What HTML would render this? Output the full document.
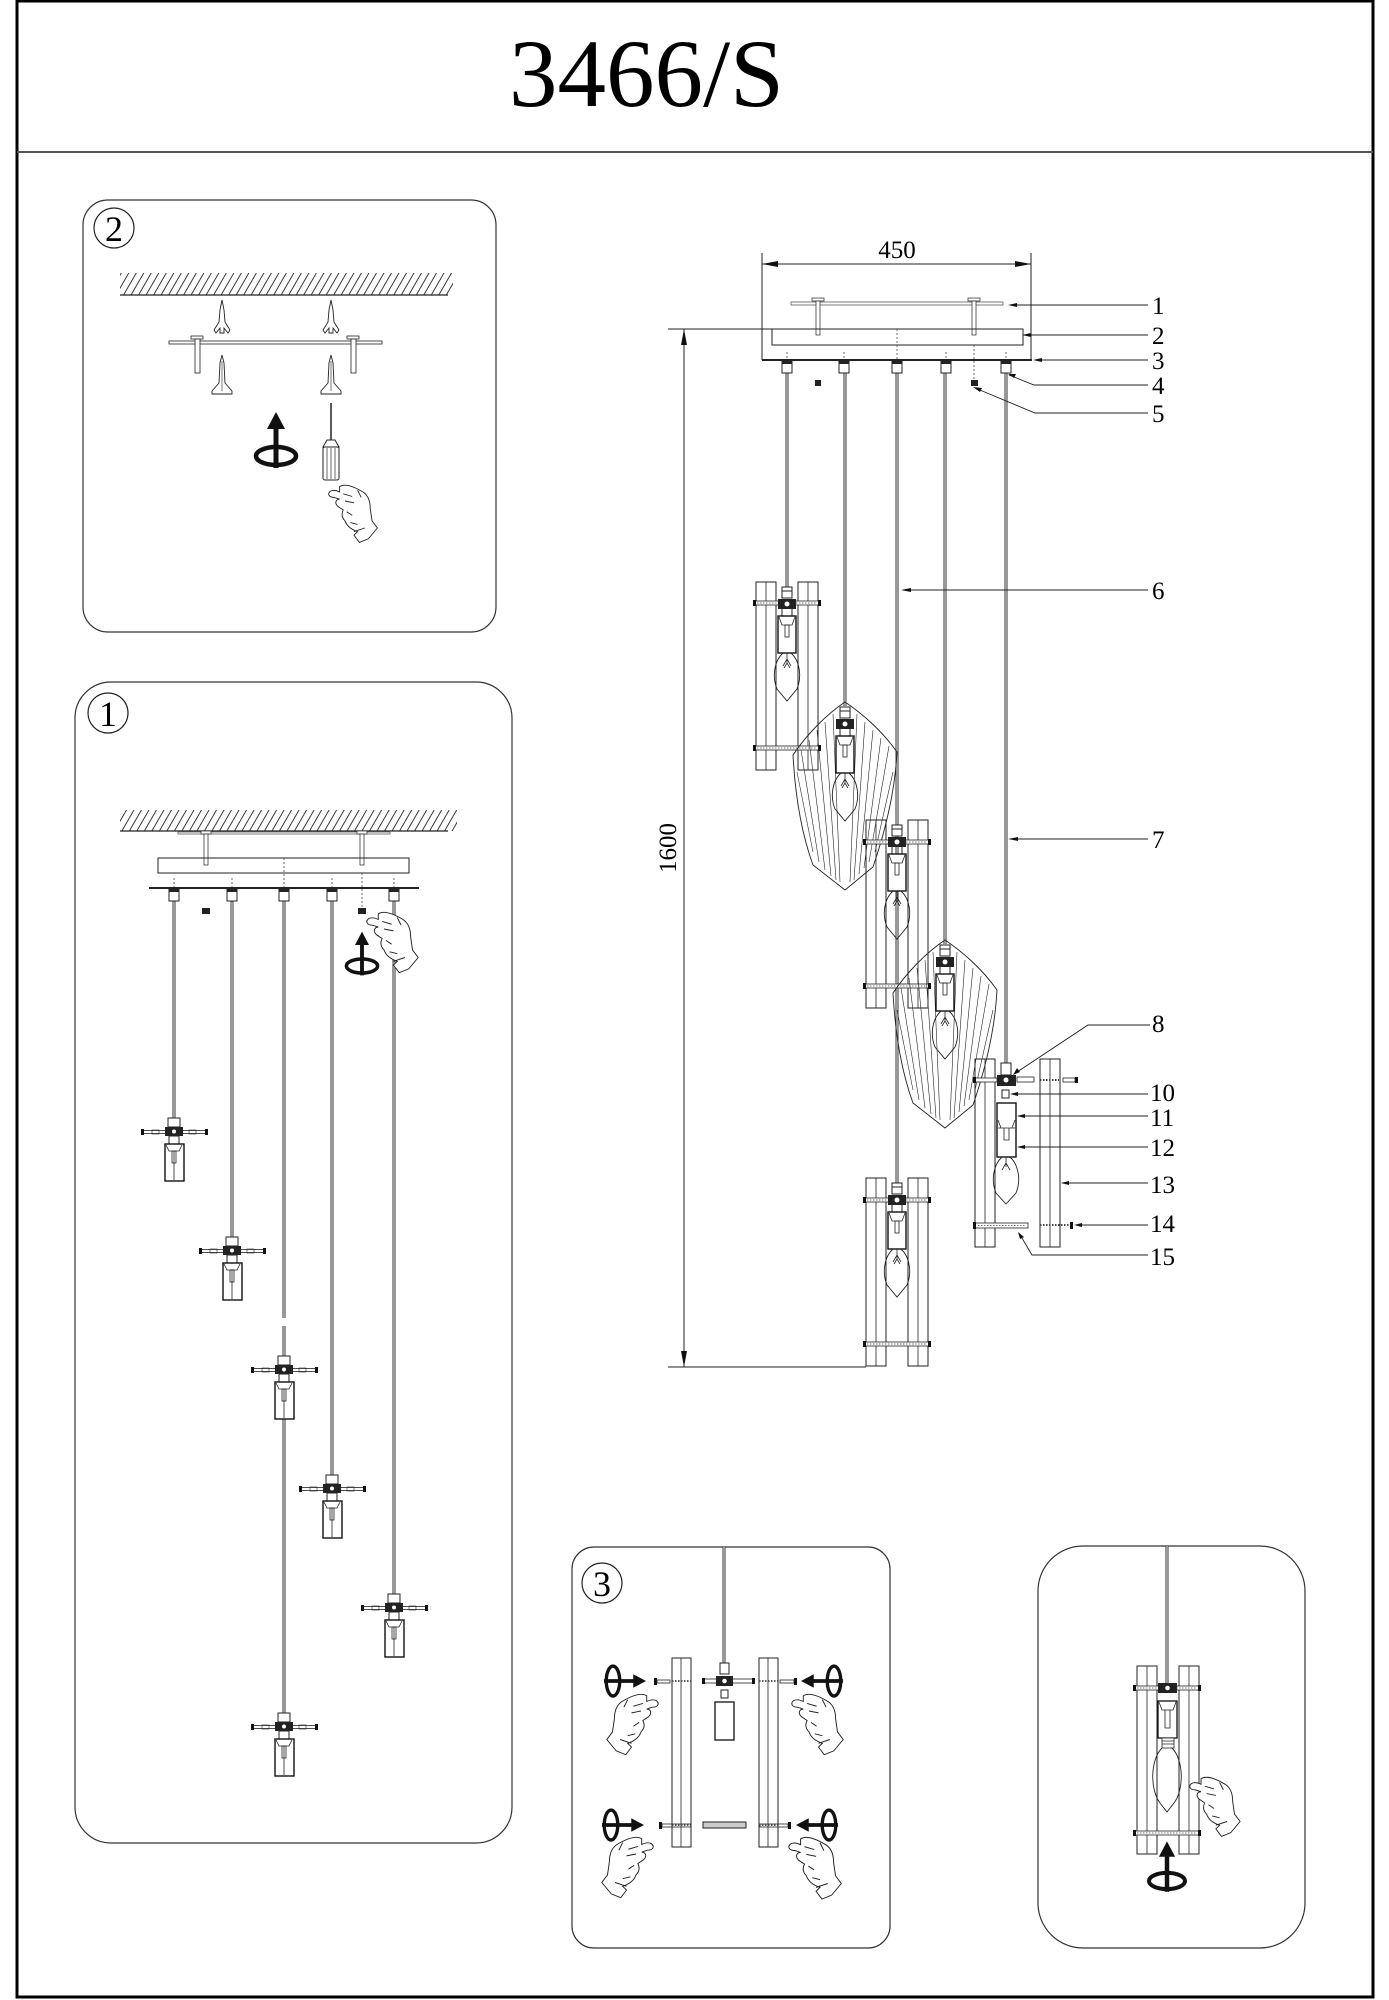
<!DOCTYPE html>
<html><head><meta charset="utf-8"><style>html,body{margin:0;padding:0;background:#fff}svg{display:block}</style></head>
<body>
<svg width="1389" height="2000" viewBox="0 0 1389 2000">
<defs>
<pattern id="h" width="6.5" height="10" patternUnits="userSpaceOnUse" patternTransform="rotate(30)"><line x1="1" y1="0" x2="1" y2="10" stroke="#222" stroke-width="0.9"/></pattern>
<g id="bar"><rect x="0" y="0" width="20" height="188" fill="none" stroke="#222" stroke-width="1"/><line x1="10" y1="0" x2="10" y2="188" stroke="#222" stroke-width="0.8"/></g>
<g id="xb"><rect x="-33" y="-2" width="66" height="4" fill="#fff" stroke="#222" stroke-width="0.8"/><line x1="-30" y1="0" x2="30" y2="0" stroke="#777" stroke-dasharray="1.5 1.5"/><rect x="-34" y="-3" width="3" height="6" fill="#111"/><rect x="31" y="-3" width="3" height="6" fill="#111"/></g>
<g id="sk">
<rect x="-5" y="0" width="10" height="11" fill="#fff" stroke="#222"/>
<line x1="-5" y1="4" x2="5" y2="4" stroke="#222"/>
<rect x="-9" y="12" width="18" height="10" fill="#222"/>
<circle cx="0" cy="17" r="2.5" fill="#fff"/>
<line x1="-5" y1="22" x2="-5" y2="29" stroke="#222"/><line x1="5" y1="22" x2="5" y2="29" stroke="#222"/>
<rect x="-9" y="29" width="18" height="37" fill="#fff" stroke="#111" stroke-width="1.4"/>
<path d="M-8,30 L-5,38 L5,38 L8,30" fill="none" stroke="#222" stroke-width="0.8"/>
<rect x="-2" y="38" width="4" height="12" fill="none" stroke="#222" stroke-width="0.8"/>
<path d="M-4,66 C-13,74 -15,90 -10,102 L0,114 L10,102 C15,90 13,74 4,66" fill="none" stroke="#222" stroke-width="0.9"/>
<path d="M0,66 L0,76 M-4,79 L0,72 L4,79 M-3,81 L0,76 L3,81" fill="none" stroke="#222" stroke-width="0.8"/>
</g>
<g id="mp">
<rect x="-6" y="-14" width="12" height="9" fill="#fff" stroke="#222"/>
<rect x="-32" y="-1.5" width="65" height="3" fill="#fff" stroke="#222" stroke-width="0.8"/>
<rect x="-33" y="-3" width="3" height="6" fill="#111"/><rect x="31" y="-3" width="3" height="6" fill="#111"/>
<rect x="-22" y="-2" width="7" height="4" fill="none" stroke="#222" stroke-width="0.6"/>
<rect x="15" y="-2" width="7" height="4" fill="none" stroke="#222" stroke-width="0.6"/>
<rect x="-9" y="-5" width="18" height="9" fill="#222"/>
<circle cx="0" cy="-0.5" r="2" fill="#fff"/>
<rect x="-5" y="4" width="10" height="8" fill="#fff" stroke="#222"/>
<rect x="-9" y="12" width="19" height="37" fill="#fff" stroke="#111" stroke-width="1.4"/>
<path d="M-8,13 L-5,19 L5,19 L8,13" fill="none" stroke="#222" stroke-width="0.8"/>
<line x1="0" y1="19" x2="0" y2="48" stroke="#222" stroke-width="0.8"/>
<rect x="-2" y="19" width="4" height="12" fill="none" stroke="#222" stroke-width="0.8"/>
</g>
<g id="leaf" fill="none" stroke="#222">
<path d="M0,0 C18,12 38,30 52,50 C50,90 40,130 28,165 L0,188 L-32,163 C-44,130 -50,90 -52,53 C-38,32 -18,12 0,0 Z" stroke-width="0.9"/>
<path d="M-44,48 L-26,160 M-36,38 L-20,168 M-28,28 L-14,174 M-20,20 L-9,178 M-12,12 L-5,180 M12,12 L5,180 M20,20 L9,178 M28,28 L14,172 M36,36 L19,166 M44,44 L24,160 M-48,70 L-32,150 M48,70 L30,150" stroke-width="0.6"/>
</g>
<g id="hand" fill="#fff" stroke="#222" stroke-width="1">
<path d="M14,4 C20,0 30,4 40,10 C46,14 48,20 48,28 L50,42 L56,50 L46,62 L36,66 L30,58 L34,54 C28,52 22,48 20,42 C16,38 16,34 18,30 L12,26 C8,22 10,18 14,18 L8,16 C2,16 0,12 4,9 C8,7 12,9 14,10 Z"/>
<path d="M18,12 L28,15 M20,20 L30,22 M22,32 L28,36 M26,44 L34,46 M30,54 L42,50 M34,8 L38,16" fill="none"/>
</g>
<g id="rotv">
<ellipse cx="0" cy="0" rx="20" ry="9" fill="none" stroke="#111" stroke-width="4.5"/>
<line x1="0" y1="12" x2="0" y2="-28" stroke="#111" stroke-width="5"/>
<path d="M0,-44 L-9,-27 L9,-27 Z" fill="#111"/>
</g>
<path id="anc1" d="M0,0 L2,10 L3,22 L8,30 L6,33 L2,28 L2,33 L-2,33 L-2,28 L-6,33 L-8,30 L-3,22 L-2,10 Z" fill="#fff" stroke="#222" stroke-width="0.9"/>
<g id="anc2"><path d="M0,0 L2,8 L3,28 L10,36 L10,39 L-10,39 L-10,36 L-3,28 L-2,8 Z" fill="#fff" stroke="#222" stroke-width="0.9"/><line x1="0" y1="6" x2="0" y2="36" stroke="#222" stroke-width="0.6"/></g>
</defs>

<!-- frame -->
<rect x="17" y="1" width="1356" height="1996" fill="none" stroke="#000" stroke-width="3"/>
<line x1="17" y1="152" x2="1373" y2="152" stroke="#555" stroke-width="2"/>
<text x="509" y="106" font-family="Liberation Serif, serif" font-size="96" textLength="275" lengthAdjust="spacingAndGlyphs">3466/S</text>

<!-- ===== Panel 2 ===== -->
<rect x="83" y="200" width="413" height="432" rx="25" fill="none" stroke="#333" stroke-width="1.2"/>
<circle cx="114" cy="228" r="20" fill="none" stroke="#222" stroke-width="1.2"/>
<text x="114" y="241" font-family="Liberation Serif, serif" font-size="36" text-anchor="middle">2</text>
<rect x="120" y="273" width="333" height="22" fill="url(#h)"/>
<line x1="120" y1="295" x2="448" y2="295" stroke="#222" stroke-width="1.2"/>
<use href="#anc1" x="222" y="300"/><use href="#anc1" x="331" y="300"/>
<rect x="169" y="341" width="213" height="3" fill="#fff" stroke="#222" stroke-width="0.8"/>
<rect x="191" y="336" width="12" height="3" fill="#fff" stroke="#222" stroke-width="0.8"/>
<rect x="195" y="339" width="5" height="34" fill="#fff" stroke="#222" stroke-width="0.8"/>
<rect x="347" y="336" width="12" height="3" fill="#fff" stroke="#222" stroke-width="0.8"/>
<rect x="351" y="339" width="5" height="34" fill="#fff" stroke="#222" stroke-width="0.8"/>
<use href="#anc2" x="222" y="355"/><use href="#anc2" x="331" y="355"/>
<use href="#rotv" x="276" y="456"/>
<line x1="331" y1="403" x2="331" y2="440" stroke="#222" stroke-width="1.5"/>
<path d="M327,440 L335,440 L339,447 L323,447 Z" fill="#fff" stroke="#222"/>
<rect x="323" y="447" width="16" height="33" rx="2" fill="#fff" stroke="#222"/>
<path d="M327,448 V479 M331,448 V479 M335,448 V479" stroke="#444" stroke-width="0.8"/>
<use href="#hand" transform="translate(327,483) scale(0.9)"/>

<!-- ===== Panel 1 ===== -->
<rect x="75" y="682" width="437" height="1161" rx="36" fill="none" stroke="#333" stroke-width="1.2"/>
<circle cx="108" cy="713" r="20" fill="none" stroke="#222" stroke-width="1.2"/>
<text x="108" y="726" font-family="Liberation Serif, serif" font-size="36" text-anchor="middle">1</text>
<rect x="120" y="810" width="337" height="21" fill="url(#h)"/>
<line x1="120" y1="831" x2="448" y2="831" stroke="#222" stroke-width="1.2"/>
<rect x="178" y="832" width="212" height="2" fill="#fff" stroke="#444" stroke-width="0.7"/>
<rect x="201" y="831" width="10" height="3" fill="#fff" stroke="#222" stroke-width="0.7"/>
<rect x="204" y="834" width="4" height="31" fill="#fff" stroke="#222" stroke-width="0.7"/>
<rect x="357" y="831" width="10" height="3" fill="#fff" stroke="#222" stroke-width="0.7"/>
<rect x="360" y="834" width="4" height="31" fill="#fff" stroke="#222" stroke-width="0.7"/>
<rect x="158" y="858" width="251" height="15" fill="none" stroke="#222" stroke-width="1"/>
<path d="M284,858 V888 M362,873 V908 M174,878 V888 M232,878 V888 M332,878 V888 M394,878 V888" stroke="#444" stroke-width="0.8" stroke-dasharray="2 2"/>
<line x1="149" y1="888" x2="419" y2="888" stroke="#222" stroke-width="2"/>
<g stroke="#333" stroke-width="3"><line x1="174" y1="901" x2="174" y2="1118"/><line x1="232" y1="901" x2="232" y2="1237"/><line x1="284" y1="901" x2="284" y2="1318"/><line x1="284" y1="1326" x2="284" y2="1713"/><line x1="332" y1="901" x2="332" y2="1475"/><line x1="394" y1="901" x2="394" y2="1594"/></g>
<g stroke="#ddd" stroke-width="1.2"><line x1="174" y1="901" x2="174" y2="1118"/><line x1="232" y1="901" x2="232" y2="1237"/><line x1="284" y1="901" x2="284" y2="1318"/><line x1="284" y1="1326" x2="284" y2="1713"/><line x1="332" y1="901" x2="332" y2="1475"/><line x1="394" y1="901" x2="394" y2="1594"/></g>
<g fill="#fff" stroke="#222"><rect x="169" y="889" width="10" height="12"/><rect x="227" y="889" width="10" height="12"/><rect x="279" y="889" width="10" height="12"/><rect x="327" y="889" width="10" height="12"/><rect x="389" y="889" width="10" height="12"/></g>
<g fill="#222"><rect x="169" y="889" width="10" height="3"/><rect x="227" y="889" width="10" height="3"/><rect x="279" y="889" width="10" height="3"/><rect x="327" y="889" width="10" height="3"/><rect x="389" y="889" width="10" height="3"/><rect x="202" y="908" width="8" height="6"/><rect x="358" y="908" width="8" height="6"/></g>
<use href="#rotv" transform="translate(362,966) scale(0.78)"/>
<use href="#hand" transform="translate(365,910) scale(0.95)"/>
<use href="#mp" x="174" y="1132"/>
<use href="#mp" x="232" y="1251"/>
<use href="#mp" x="284" y="1370"/>
<use href="#mp" x="332" y="1489"/>
<use href="#mp" x="394" y="1608"/>
<use href="#mp" x="284" y="1727"/>

<!-- ===== Main diagram ===== -->
<g stroke="#222" stroke-width="1">
<line x1="762" y1="253" x2="762" y2="360"/><line x1="1031" y1="253" x2="1031" y2="360"/>
<line x1="762" y1="264" x2="1031" y2="264"/>
<line x1="668" y1="329" x2="772" y2="329"/><line x1="668" y1="1367" x2="866" y2="1367"/>
<line x1="684" y1="329" x2="684" y2="1367"/>
</g>
<g fill="#111"><path d="M762,264 L778,261 L778,267 Z"/><path d="M1031,264 L1015,261 L1015,267 Z"/><path d="M684,329 L681,345 L687,345 Z"/><path d="M684,1367 L681,1351 L687,1351 Z"/></g>
<text x="897" y="258" font-family="Liberation Serif, serif" font-size="25" text-anchor="middle">450</text>
<text transform="translate(676,848) rotate(-90)" font-family="Liberation Serif, serif" font-size="25" text-anchor="middle">1600</text>
<rect x="791" y="302" width="212" height="3" fill="#fff" stroke="#444" stroke-width="0.7"/>
<rect x="812" y="298" width="12" height="3" fill="#fff" stroke="#222" stroke-width="0.7"/>
<rect x="816" y="301" width="4" height="34" fill="#fff" stroke="#222" stroke-width="0.7"/>
<rect x="968" y="298" width="12" height="3" fill="#fff" stroke="#222" stroke-width="0.7"/>
<rect x="972" y="301" width="4" height="34" fill="#fff" stroke="#222" stroke-width="0.7"/>
<rect x="772" y="329" width="251" height="16" fill="none" stroke="#222" stroke-width="1"/>
<path d="M897,329 V360 M974,345 V381 M787,352 V360 M844,352 V360 M946,352 V360 M1006,352 V360" stroke="#444" stroke-width="0.8" stroke-dasharray="2 2"/>
<line x1="762" y1="360" x2="1032" y2="360" stroke="#222" stroke-width="2"/>
<g fill="#222"><rect x="815" y="380" width="6" height="6"/><rect x="971" y="380" width="7" height="6"/></g>
<g stroke="#333" stroke-width="3"><line x1="787" y1="373" x2="787" y2="588"/><line x1="845" y1="373" x2="845" y2="706"/><line x1="897" y1="373" x2="897" y2="1184"/><line x1="945" y1="373" x2="945" y2="944"/><line x1="1006" y1="373" x2="1006" y2="1064"/></g>
<g stroke="#ddd" stroke-width="1.2"><line x1="787" y1="373" x2="787" y2="588"/><line x1="845" y1="373" x2="845" y2="706"/><line x1="897" y1="373" x2="897" y2="1184"/><line x1="945" y1="373" x2="945" y2="944"/><line x1="1006" y1="373" x2="1006" y2="1064"/></g>
<g fill="#fff" stroke="#222"><rect x="782" y="361" width="10" height="12"/><rect x="839" y="361" width="10" height="12"/><rect x="892" y="361" width="10" height="12"/><rect x="941" y="361" width="10" height="12"/><rect x="1001" y="361" width="10" height="12"/></g>
<g fill="#222"><rect x="782" y="361" width="10" height="3"/><rect x="839" y="361" width="10" height="3"/><rect x="892" y="361" width="10" height="3"/><rect x="941" y="361" width="10" height="3"/><rect x="1001" y="361" width="10" height="3"/></g>
<use href="#bar" x="756" y="582"/><use href="#bar" x="798" y="582"/>
<use href="#xb" x="787" y="603"/><use href="#xb" x="787" y="748"/>
<use href="#sk" x="787" y="587"/>
<use href="#leaf" x="845" y="702"/><use href="#sk" x="845" y="707"/>
<use href="#bar" x="866" y="820"/><use href="#bar" x="908" y="820"/>
<use href="#xb" x="897" y="842"/><use href="#xb" x="897" y="986"/>
<use href="#sk" x="897" y="825"/>
<use href="#leaf" x="945" y="940"/><use href="#sk" x="945" y="945"/>
<use href="#bar" x="866" y="1178"/><use href="#bar" x="908" y="1178"/>
<use href="#xb" x="897" y="1200"/><use href="#xb" x="897" y="1344"/>
<use href="#sk" x="897" y="1183"/>
<use href="#bar" x="975" y="1059"/><use href="#bar" x="1040" y="1059"/>
<rect x="1001" y="1063" width="10" height="12" fill="#fff" stroke="#222"/>
<rect x="974" y="1078" width="23" height="4" fill="#fff" stroke="#222" stroke-width="0.8"/><rect x="973" y="1077" width="3" height="6" fill="#111"/>
<rect x="997" y="1075" width="19" height="11" fill="#222"/><circle cx="1006" cy="1080" r="2.5" fill="#fff"/>
<rect x="1017" y="1077" width="17" height="5" fill="#fff" stroke="#222" stroke-width="0.8"/>
<line x1="1040" y1="1080" x2="1059" y2="1080" stroke="#444" stroke-dasharray="1.5 1.5" stroke-width="2"/>
<rect x="1063" y="1078" width="12" height="4" fill="#fff" stroke="#222" stroke-width="0.8"/><rect x="1075" y="1077" width="3" height="6" fill="#111"/>
<rect x="1002" y="1090" width="7" height="8" fill="#fff" stroke="#222"/>
<rect x="997" y="1103" width="19" height="54" fill="#fff" stroke="#111" stroke-width="1.4"/>
<path d="M998,1120 L1001,1128 L1012,1128 L1015,1120 M998,1128 H1015 M1004,1128 V1140 H1009 V1128" fill="none" stroke="#222" stroke-width="0.8"/>
<path d="M1002,1157 C993,1165 991,1181 996,1193 L1006,1204 L1016,1193 C1021,1181 1019,1165 1010,1157" fill="none" stroke="#222" stroke-width="0.9"/>
<path d="M1006,1157 V1167 M1002,1170 L1006,1163 L1010,1170" fill="none" stroke="#222" stroke-width="0.8"/>
<rect x="974" y="1223" width="54" height="5" fill="#fff" stroke="#222" stroke-width="0.8"/><rect x="973" y="1222" width="3" height="7" fill="#111"/>
<line x1="978" y1="1225.5" x2="1026" y2="1225.5" stroke="#777" stroke-dasharray="1.5 1.5"/>
<line x1="1040" y1="1225" x2="1070" y2="1225" stroke="#444" stroke-width="2" stroke-dasharray="1.5 1.5"/>
<rect x="1070" y="1222" width="3" height="7" fill="#111"/>
<g stroke="#222" stroke-width="0.9" fill="none">
<path d="M1010,305 H1148"/><path d="M1024,335 H1148"/><path d="M1035,360 H1148"/>
<path d="M1009,375 L1034,385 H1148"/><path d="M975,388 L1035,413 H1148"/>
<path d="M903,590 H1148"/><path d="M1010,839 H1148"/>
<path d="M1014,1074 L1088,1025 H1150"/>
<path d="M1012,1094 H1148"/><path d="M1018,1116 H1148"/><path d="M1018,1147 H1148"/><path d="M1062,1183 H1148"/><path d="M1076,1225 H1148"/><path d="M1019,1233 L1032,1255 H1148"/>
</g>
<g fill="#111">
<path d="M1008,305 l9,-2 v4 z"/><path d="M1022,335 l9,-2 v4 z"/><path d="M1033,360 l9,-2 v4 z"/>
<path d="M1008,374 l8,0 l-2,4 z"/><path d="M973,387 l9,1 l-2,4 z"/>
<path d="M901,590 l10,-2 v4 z"/><path d="M1008,839 l10,-2 v4 z"/>
<path d="M1013,1075 l4,-7 l3,4 z"/>
<path d="M1010,1094 l8,-2 v4 z"/><path d="M1017,1116 l8,-2 v4 z"/><path d="M1017,1147 l8,-2 v4 z"/><path d="M1061,1183 l8,-2 v4 z"/><path d="M1074,1225 l8,-2 v4 z"/><path d="M1018,1232 l6,5 l-4,2 z"/>
</g>
<g font-family="Liberation Serif, serif" font-size="25">
<text x="1152" y="314">1</text><text x="1152" y="344">2</text><text x="1152" y="369">3</text><text x="1152" y="394">4</text><text x="1152" y="422">5</text>
<text x="1152" y="599">6</text><text x="1152" y="848">7</text><text x="1152" y="1032">8</text>
<text x="1150" y="1101">10</text><text x="1150" y="1126">11</text><text x="1150" y="1156">12</text><text x="1150" y="1193">13</text><text x="1150" y="1232">14</text><text x="1150" y="1265">15</text>
</g>

<!-- ===== Panel 3 ===== -->
<rect x="572" y="1547" width="318" height="401" rx="22" fill="none" stroke="#333" stroke-width="1.2"/>
<circle cx="602" cy="1583" r="20" fill="none" stroke="#222" stroke-width="1.2"/>
<text x="602" y="1596" font-family="Liberation Serif, serif" font-size="36" text-anchor="middle">3</text>
<line x1="724" y1="1547" x2="724" y2="1664" stroke="#333" stroke-width="3"/>
<line x1="724" y1="1547" x2="724" y2="1664" stroke="#ddd" stroke-width="1.2"/>
<rect x="672" y="1658" width="19" height="189" fill="none" stroke="#222"/><line x1="681" y1="1658" x2="681" y2="1847" stroke="#222" stroke-width="0.8"/>
<rect x="759" y="1658" width="19" height="189" fill="none" stroke="#222"/><line x1="768" y1="1658" x2="768" y2="1847" stroke="#222" stroke-width="0.8"/>
<rect x="720" y="1663" width="9" height="11" fill="#fff" stroke="#222"/>
<rect x="703" y="1679" width="51" height="4" fill="#fff" stroke="#222" stroke-width="0.8"/>
<rect x="702" y="1678" width="3" height="6" fill="#111"/><rect x="752" y="1678" width="3" height="6" fill="#111"/>
<rect x="716" y="1676" width="17" height="10" fill="#222"/><circle cx="724.5" cy="1681" r="2.3" fill="#fff"/>
<rect x="721" y="1690" width="7" height="8" fill="#fff" stroke="#222"/>
<rect x="715" y="1702" width="19" height="38" fill="#fff" stroke="#111" stroke-width="1.3"/>
<g stroke="#555" stroke-width="2" stroke-dasharray="1.5 1.5"><line x1="672" y1="1681" x2="691" y2="1681"/><line x1="759" y1="1681" x2="778" y2="1681"/><line x1="672" y1="1825" x2="691" y2="1825"/><line x1="759" y1="1825" x2="778" y2="1825"/></g>
<rect x="657" y="1680" width="13" height="3" fill="#fff" stroke="#222" stroke-width="0.8"/><rect x="654" y="1678" width="3" height="7" fill="#111"/>
<rect x="780" y="1680" width="14" height="3" fill="#fff" stroke="#222" stroke-width="0.8"/><rect x="794" y="1678" width="3" height="7" fill="#111"/>
<rect x="662" y="1824" width="29" height="3" fill="none" stroke="#222" stroke-width="0.8"/><rect x="659" y="1822" width="3" height="7" fill="#111"/>
<rect x="703" y="1822" width="43" height="6" fill="#ccc" stroke="#222" stroke-width="1"/>
<rect x="760" y="1824" width="28" height="3" fill="none" stroke="#222" stroke-width="0.8"/><rect x="788" y="1822" width="3" height="7" fill="#111"/>
<use href="#rotv" transform="translate(613,1681) rotate(90) scale(0.75)"/>
<use href="#rotv" transform="translate(834,1681) rotate(-90) scale(0.75)"/>
<use href="#rotv" transform="translate(611,1825) rotate(90) scale(0.75)"/>
<use href="#rotv" transform="translate(829,1825) rotate(-90) scale(0.75)"/>
<use href="#hand" transform="translate(660,1692) scale(-0.95,0.95)"/>
<use href="#hand" transform="translate(790,1692) scale(0.95)"/>
<use href="#hand" transform="translate(655,1835) scale(-0.95,0.95)"/>
<use href="#hand" transform="translate(787,1835) scale(0.97)"/>

<!-- ===== Panel 4 ===== -->
<rect x="1038" y="1546" width="267" height="402" rx="45" fill="none" stroke="#333" stroke-width="1.2"/>
<line x1="1167" y1="1546" x2="1167" y2="1684" stroke="#333" stroke-width="3"/>
<line x1="1167" y1="1546" x2="1167" y2="1684" stroke="#ddd" stroke-width="1.2"/>
<use href="#bar" x="1137" y="1666"/><use href="#bar" x="1179" y="1666"/>
<use href="#xb" x="1167" y="1688"/><use href="#xb" x="1167" y="1833"/>
<rect x="1158" y="1683" width="19" height="10" fill="#222"/><circle cx="1167.5" cy="1688" r="2.3" fill="#fff"/>
<rect x="1158" y="1701" width="19" height="37" fill="#fff" stroke="#111" stroke-width="1.3"/>
<path d="M1159,1702 L1162,1710 L1173,1710 L1176,1702 M1165,1710 V1728 H1170 V1710" fill="none" stroke="#222" stroke-width="0.8"/>
<rect x="1162" y="1738" width="12" height="10" fill="#fff" stroke="#222" stroke-width="0.8"/>
<path d="M1162,1741 H1174 M1162,1744 H1174" stroke="#222" stroke-width="0.7"/>
<path d="M1162,1748 C1150,1760 1150,1790 1160,1803 L1167,1812 L1174,1803 C1184,1790 1184,1760 1172,1748" fill="none" stroke="#222" stroke-width="0.9"/>
<use href="#hand" transform="translate(1188,1775) scale(0.93)"/>
<use href="#rotv" transform="translate(1167,1881) scale(0.9)"/>
</svg>
</body></html>
